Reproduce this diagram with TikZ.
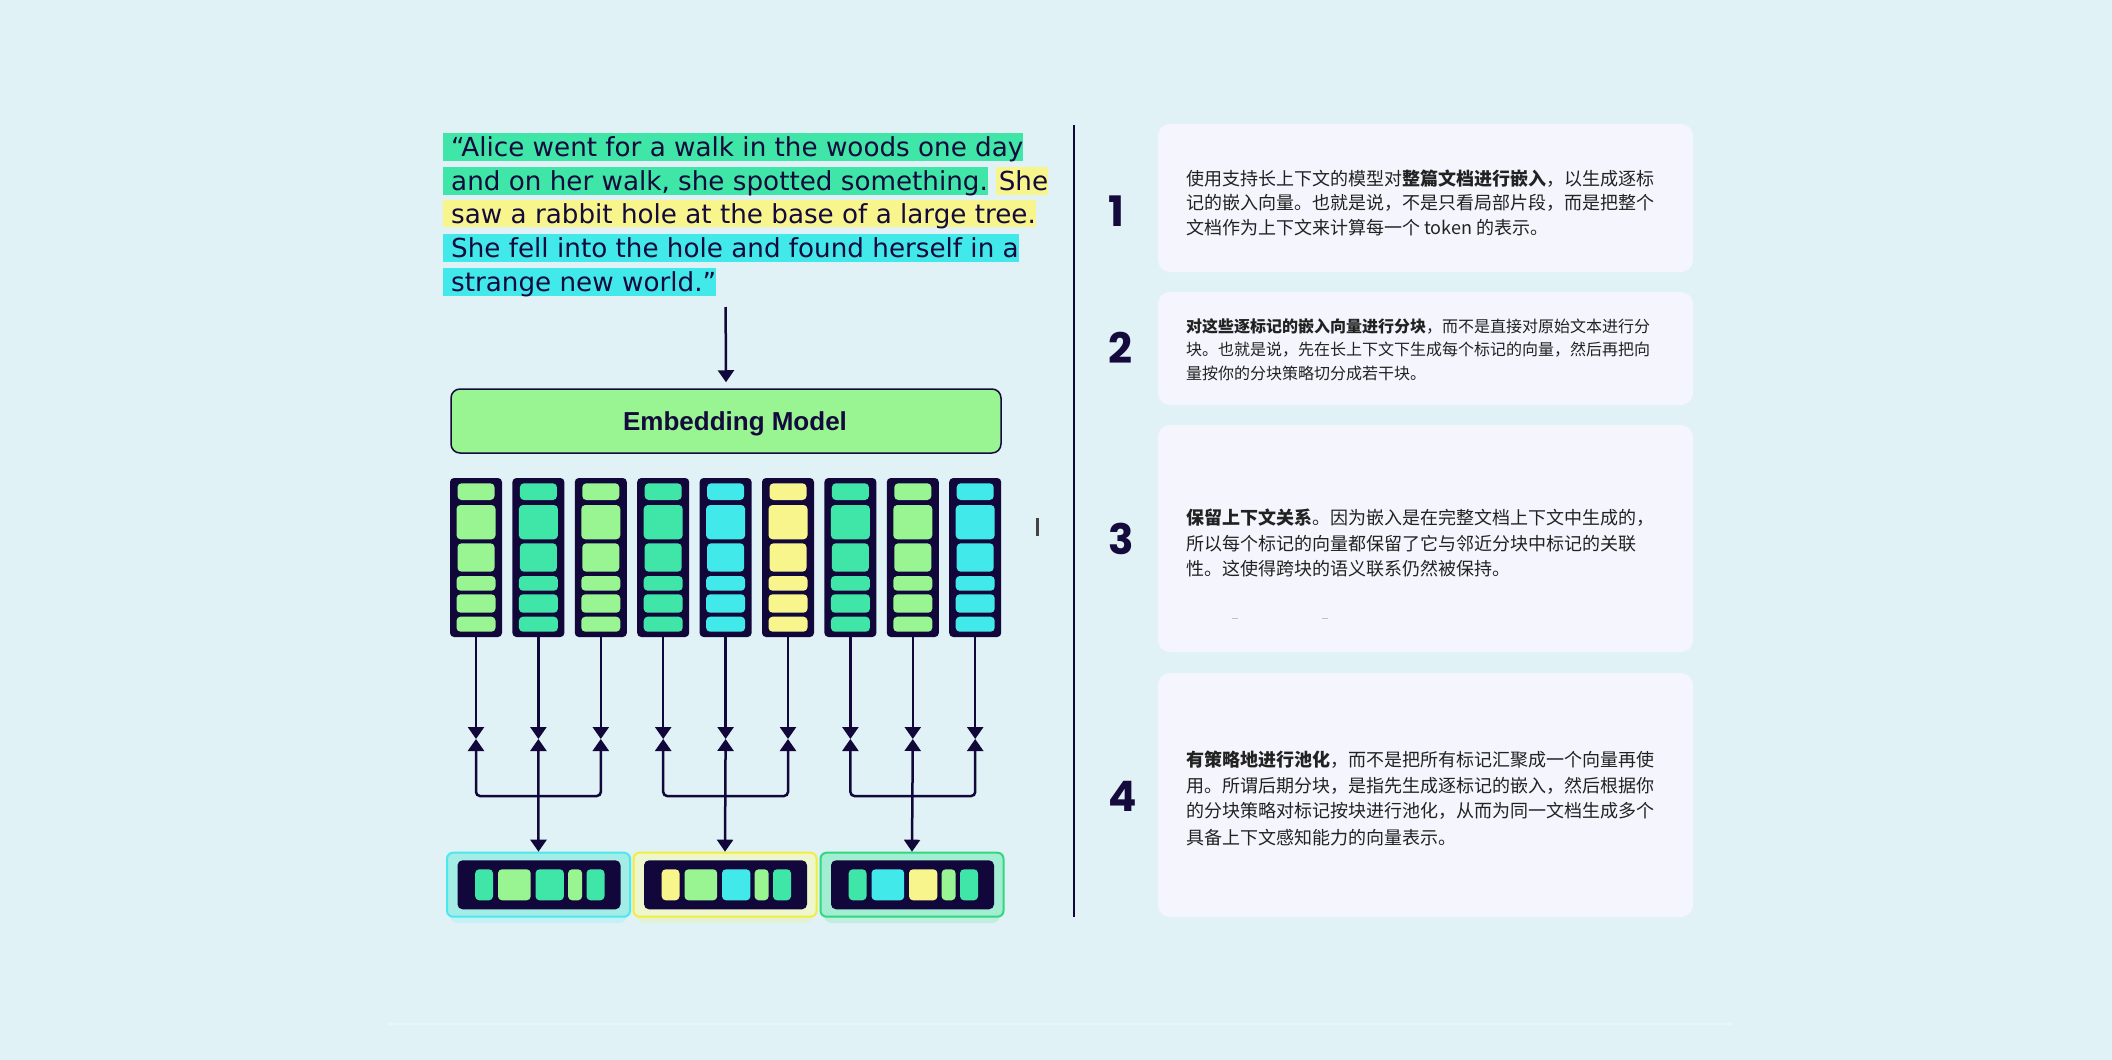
\documentclass[tikz,border=0pt]{standalone}
\usepackage{fontspec}
\usetikzlibrary{arrows.meta,calc}
\setmainfont{DejaVu Sans}
\newfontfamily\quotefont{DejaVu Sans}
\newfontfamily\embfont{Liberation Sans}
\newfontfamily\numfont{Poppins}
\newfontfamily\cjk{Noto Sans CJK SC}
\definecolor{bgc}{HTML}{E0F2F6}
\definecolor{ink}{HTML}{140A3C}
\definecolor{navy}{HTML}{12073A}
\definecolor{tealc}{HTML}{40E6A8}
\definecolor{lgc}{HTML}{98F592}
\definecolor{cyanc}{HTML}{42E9EA}
\definecolor{yelc}{HTML}{F7F58B}
\definecolor{rboxc}{HTML}{F4F5FD}
\definecolor{cjkc}{HTML}{222222}
\definecolor{bAf}{HTML}{A3EDE6}
\definecolor{bAd}{HTML}{4BE8EE}
\definecolor{bBf}{HTML}{EEF6CD}
\definecolor{bBd}{HTML}{F2EE40}
\definecolor{bCf}{HTML}{A3EDD3}
\definecolor{bCd}{HTML}{30D97D}
\definecolor{faint}{HTML}{E9F6F9}
\begin{document}
\begin{tikzpicture}[x=1pt,y=-1pt,
  hl/.style={anchor=base west, inner xsep=0pt, inner ysep=0pt, text height=23.4pt, text depth=4.3pt,
    font=\quotefont\fontsize{26.2}{30}\selectfont, text=ink},
  embbox/.style={rectangle, rounded corners=9pt, fill=lgc, draw=ink, line width=1.5pt,
    minimum width=550pt, minimum height=64pt, inner sep=0pt},
  colbar/.style={rectangle, rounded corners=4pt, fill=navy, minimum width=52pt, minimum height=159pt, inner sep=0pt},
  conn/.style={draw=navy, line width=2.5pt},
  tipd/.tip={Triangle[width=16pt,length=12pt]},
  obox/.style={rectangle, rounded corners=6pt, line width=2pt, minimum width=183pt, minimum height=64pt, inner sep=0pt},
  ibox/.style={rectangle, rounded corners=5pt, fill=navy, minimum width=163pt, minimum height=49pt, inner sep=0pt},
  rbox/.style={rectangle, rounded corners=12pt, fill=rboxc, minimum width=535pt, inner sep=0pt},
  numst/.style={anchor=base west, inner sep=0pt, font=\numfont\bfseries\fontsize{42}{42}\selectfont, text=ink},
  cjkline/.style={anchor=base west, inner sep=0pt, font=\cjk\fontsize{18}{18}\selectfont, text=cjkc},
  cjksmall/.style={anchor=base west, inner sep=0pt, font=\cjk\fontsize{16}{16}\selectfont, text=cjkc}
]
\fill[bgc] (0,0) rectangle (2112,1060);
\useasboundingbox (0,0) rectangle (2112,1060);

% faint bottom rule
\draw[faint, line width=1.5pt] (387,1024) -- (1732,1024);

% quote
\node[hl, fill=tealc] (q1) at (443,156.7) {\hspace{8pt}“Alice went for a walk in the woods one day\hspace{11pt}};
\node[hl, fill=tealc] (q2a) at (443,190.7) {\hspace{8pt}and on her walk, she spotted something.\hspace{1.5pt}};
\node[hl, fill=yelc] (q2b) at ([xshift=8pt]q2a.base east) {\hspace{2.5pt}She\hspace{5pt}};
\node[hl, fill=yelc] (q3) at (443,223) {\hspace{8pt}saw a rabbit hole at the base of a large tree.\hspace{17pt}};
\node[hl, fill=cyanc] (q4) at (443,257.4) {\hspace{8pt}She fell into the hole and found herself in a\hspace{9pt}};
\node[hl, fill=cyanc] (q5) at (443,291.4) {\hspace{8pt}strange new world.”\hspace{6pt}};

% embedding model
\coordinate (qbot) at (725.6,307);
\node[embbox] (emb) at (726,421) {};
\node[anchor=base, inner sep=0pt, font=\embfont\bfseries\fontsize{26}{30}\selectfont, text=ink] (embt) at (735,430.7) {Embedding Model};
\draw[conn, -{tipd}] (qbot) -- ([yshift=6pt]emb.north);

% token columns
\coordinate (hline) at (0,796);
\foreach \i/\c in {0/lgc,1/tealc,2/lgc,3/tealc,4/cyanc,5/yelc,6/tealc,7/lgc,8/cyanc}{
  \pgfmathsetmacro\xx{450+62.4*\i}
  \node[colbar] (c\i) at (\xx+26,557.5) {};
  \foreach \ya/\yb/\ins in {483.3/500/7.5, 505/539.3/6.5, 543.3/571.7/7.5, 576/590.7/6.5, 594.3/612.7/6.5, 616.7/631.7/6.5}{
    \fill[\c, rounded corners=4pt] (\xx+\ins,\ya) rectangle (\xx+52-\ins,\yb);
  }
  \coordinate (m\i) at (\xx+26,739);
  \draw[conn, -{tipd}] (c\i.south) -- (m\i);
}

% bottom chunk boxes
\fill[bAd, opacity=0.18, rounded corners=8pt] (450,860) rectangle (627,923);
\fill[bBd, opacity=0.18, rounded corners=8pt] (637,860) rectangle (813,923);
\fill[bCd, opacity=0.18, rounded corners=8pt] (824,860) rectangle (1000,923);
\node[obox, fill=bAf, draw=bAd] (b0) at (538.5,884.7) {};
\node[obox, fill=bBf, draw=bBd] (b1) at (725,884.7) {};
\node[obox, fill=bCf, draw=bCd] (b2) at (912,884.7) {};
\foreach \k/\cx/\ca/\cb/\cc/\cd/\ce in {0/539/tealc/lgc/tealc/lgc/tealc, 1/725.5/yelc/lgc/cyanc/lgc/tealc, 2/912.5/tealc/cyanc/yelc/lgc/tealc}{
  \node[ibox] (i\k) at (\cx,884.8) {};
  \pgfmathsetmacro\lx{\cx-81.5}
  \fill[\ca, rounded corners=4pt] (\lx+17.7,869.3) rectangle (\lx+35.5,900.3);
  \fill[\cb, rounded corners=4pt] (\lx+40.5,869.3) rectangle (\lx+73.2,900.3);
  \fill[\cc, rounded corners=4pt] (\lx+78,869.3) rectangle (\lx+106.4,900.3);
  \fill[\cd, rounded corners=4pt] (\lx+110.6,869.3) rectangle (\lx+124.6,900.3);
  \fill[\ce, rounded corners=4pt] (\lx+129,869.3) rectangle (\lx+147,900.3);
}

% pooling connectors
\draw[conn, {tipd}-{tipd}, rounded corners=4pt] (m0) -- (m0 |- hline) -- (m2 |- hline) -- (m2);
\draw[conn, {tipd}-{tipd}] (m1) -- (b0.north);
\draw[conn, {tipd}-{tipd}, rounded corners=4pt] (m3) -- (m3 |- hline) -- (m5 |- hline) -- (m5);
\draw[conn, {tipd}-{tipd}] (m4) -- (b1.north);
\draw[conn, {tipd}-{tipd}, rounded corners=4pt] (m6) -- (m6 |- hline) -- (m8 |- hline) -- (m8);
\draw[conn, {tipd}-{tipd}] (m7) -- (b2.north);

% small mark and divider
\fill[cjkc!85] (1035.5,518) rectangle (1038.5,536);
\draw[navy, line width=2pt] (1074,125) -- (1074,917);

% right boxes
\node[rbox, minimum height=148pt] (r1) at (1425.5,198) {};
\node[rbox, minimum height=113pt] (r2) at (1425.5,348.5) {};
\node[rbox, minimum height=227pt] (r3) at (1425.5,538.5) {};
\node[rbox, minimum height=244pt] (r4) at (1425.5,795) {};
\draw[black!25, line width=1pt] (1232,618) -- (1238,618);
\draw[black!25, line width=1pt] (1322,618) -- (1328,618);

% numbers
\node[numst] (n1) at (1108,226.7) {1};
\node[numst] (n2) at (1108,363) {2};
\node[numst] (n3) at (1108,554.7) {3};
\node[numst] (n4) at (1108,811.4) {4};

% box 1 text
\node[cjkline] (t11) at (1186,185.7) {使用支持长上下文的模型对{\bfseries 整篇文档进行嵌入}，以生成逐标};
\node[cjkline] (t12) at (1186,209.5) {记的嵌入向量。也就是说，不是只看局部片段，而是把整个};
\node[cjkline] (t13) at (1186,234) {文档作为上下文来计算每一个 token 的表示。};
% box 2 text
\node[cjksmall] (t21) at (1186,332) {{\bfseries 对这些逐标记的嵌入向量进行分块}，而不是直接对原始文本进行分};
\node[cjksmall] (t22) at (1186,355.5) {块。也就是说，先在长上下文下生成每个标记的向量，然后再把向};
\node[cjksmall] (t23) at (1186,379) {量按你的分块策略切分成若干块。};
% box 3 text
\node[cjkline] (t31) at (1186,524) {{\bfseries 保留上下文关系}。因为嵌入是在完整文档上下文中生成的，};
\node[cjkline] (t32) at (1186,550.5) {所以每个标记的向量都保留了它与邻近分块中标记的关联};
\node[cjkline] (t33) at (1186,575.7) {性。这使得跨块的语义联系仍然被保持。};
% box 4 text
\node[cjkline] (t41) at (1186,766) {{\bfseries 有策略地进行池化}，而不是把所有标记汇聚成一个向量再使};
\node[cjkline] (t42) at (1186,792.5) {用。所谓后期分块，是指先生成逐标记的嵌入，然后根据你};
\node[cjkline] (t43) at (1186,817.5) {的分块策略对标记按块进行池化，从而为同一文档生成多个};
\node[cjkline] (t44) at (1186,844) {具备上下文感知能力的向量表示。};
\end{tikzpicture}
\end{document}
